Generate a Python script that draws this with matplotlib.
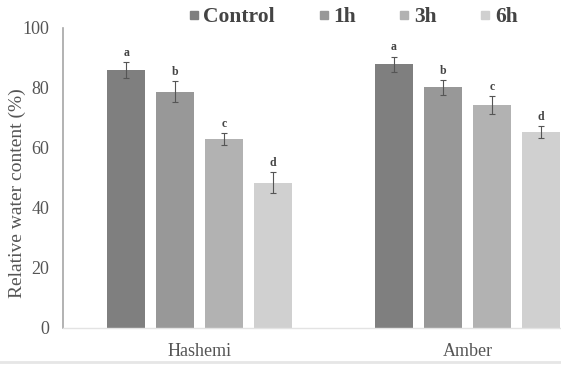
import numpy as np
import matplotlib
matplotlib.use('Agg')
import matplotlib.pyplot as plt
from matplotlib.lines import Line2D

plt.rcParams['font.family'] = ['Liberation Serif', 'DejaVu Serif']

cultivars = ['Hashemi', 'Amber']
treatments = ['Control', '1h', '3h', '6h']
rwc = {
    'Control': [86.0, 88.0],
    '1h': [78.7, 80.2],
    '3h': [63.0, 74.5],
    '6h': [48.5, 65.5],
}
err = {
    'Control': [2.8, 2.5],
    '1h': [3.5, 2.5],
    '3h': [2.0, 3.0],
    '6h': [3.5, 2.0],
}
letters = ['a', 'b', 'c', 'd']
colors = ['#7f7f7f', '#989898', '#b2b2b2', '#d0d0d0']

fig = plt.figure(figsize=(5.61, 3.65), dpi=100)
ax = fig.add_axes([63 / 561, 37 / 365, (560 - 63) / 561, (328 - 28) / 365])

x = np.arange(len(cultivars))
width = 0.14
step = 0.183
for i, t in enumerate(treatments):
    pos = x + (i - 1.5) * step
    ax.bar(pos, rwc[t], width, color=colors[i], label=t, zorder=2)
    ax.errorbar(pos, rwc[t], yerr=err[t], fmt='none', ecolor='#555555',
                elinewidth=0.8, capsize=2.5, capthick=0.8, zorder=3)
    for p, v, e in zip(pos, rwc[t], err[t]):
        ax.text(p, v + e + 1.0, letters[i], ha='center', va='bottom',
                fontsize=8.5, fontweight='bold', color='#444444')

ax.set_xlim(-0.51, 1.345)
ax.set_ylim(0, 100)
ax.set_yticks([0, 20, 40, 60, 80, 100])
ax.set_xticks(x)
ax.set_xticklabels(cultivars, fontsize=13, color='#555555')
ax.tick_params(axis='y', labelsize=13, colors='#555555', length=0, pad=10)
ax.tick_params(axis='x', length=0, pad=11)
ax.set_ylabel('Relative water content (%)', fontsize=14, color='#555555')
ax.yaxis.set_label_coords(-(63 - 26) / 497, 0.45)

for s in ['top', 'right']:
    ax.spines[s].set_visible(False)
ax.spines['left'].set_color('#a6a6a6')
ax.spines['left'].set_linewidth(1.2)
ax.spines['bottom'].set_color('#e3e3e3')
ax.spines['bottom'].set_linewidth(1.0)

handles = [Line2D([], [], marker='s', linestyle='none', markersize=6,
                  color=c) for c in colors]
leg = fig.legend(handles, treatments, loc='center', ncol=4,
                 bbox_to_anchor=(353 / 561, 1 - 17 / 365), frameon=False,
                 handlelength=0.5, handletextpad=0.2, columnspacing=2.0,
                 prop={'weight': 'bold', 'size': 15.5})
for txt in leg.get_texts():
    txt.set_color('#444444')

fig.add_artist(Line2D([0, 1], [3 / 365, 3 / 365], color='#e6e6e6',
                      linewidth=2, transform=fig.transFigure))

fig.savefig('out.png', dpi=100)
